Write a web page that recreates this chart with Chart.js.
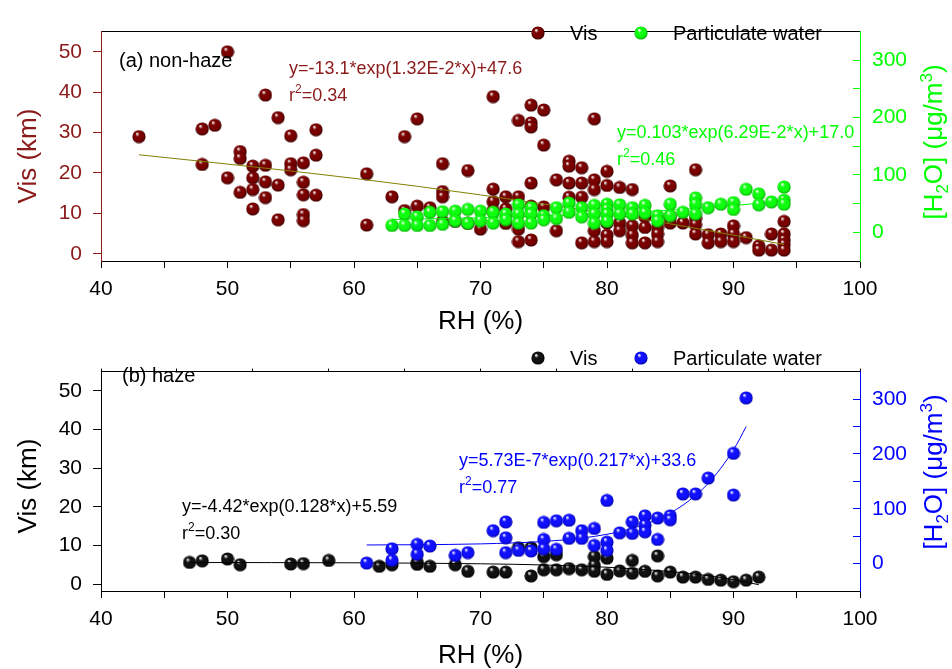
<!DOCTYPE html>
<html lang="en">
<head>
<meta charset="UTF-8">
<title>Vis and particulate water vs RH</title>
<script src="https://cdn.jsdelivr.net/npm/chart.js"></script>
<style>
  body { margin: 0; background: #fff; }
  .panel { position: absolute; left: 0; }
  #panelA { top: 0; }
  #panelB { top: 340px; }
</style>
</head>
<body>
<div class="panel" id="panelA"><canvas id="chartA" width="952" height="340"></canvas></div>
<div class="panel" id="panelB"><canvas id="chartB" width="952" height="329"></canvas></div>
<script>
// tick positions (labels only on the major ones)
const rhTicks = [40, 50, 60, 70, 80, 90, 100];
const rhTickMarks = [40, 45, 50, 55, 60, 65, 70, 75, 80, 85, 90, 95, 100];
const visTicks = [0, 10, 20, 30, 40, 50];
const visTickMarks = [0, 5, 10, 15, 20, 25, 30, 35, 40, 45, 50, 55];
const waterTicks = [0, 100, 200, 300];
const waterTickMarks = [0, 50, 100, 150, 200, 250, 300];
const topTickMarks = [0, 1, 2, 3, 4, 5, 6, 7, 8, 9, 10];

// (a) non-haze: [RH %, Vis km]
const visNonHaze = [[43,29.0],[48,30.9],[48,22.1],[49,31.8],[50,50.0],[50,18.8],[51,25.3],[51,23.6],[51,15.2],
  [52,21.7],[52,18.8],[52,15.9],[52,11.1],[53,39.3],[53,21.9],[53,17.8],[53,13.9],[54,33.7],[54,17.0],[54,8.4],
  [55,29.2],[55,22.3],[55,20.8],[56,22.5],[56,17.7],[56,14.6],[56,9.7],[56,8.2],[57,30.7],[57,24.4],[57,14.5],
  [61,19.8],[61,7.1],[63,14.1],[64,29.0],[64,10.7],[65,33.4],[65,11.8],[66,11.4],[67,22.3],[67,15.4],[67,14.1],
  [67,8.0],[68,8.0],[69,20.6],[69,7.5],[70,6.1],[71,38.9],[71,16.0],[71,12.9],[71,10.7],[72,14.1],[72,11.1],
  [72,7.5],[73,33.0],[73,14.1],[73,6.1],[73,3.0],[74,36.8],[74,32.4],[74,31.4],[74,17.5],[74,11.8],[74,3.4],
  [75,35.6],[75,26.9],[75,11.6],[76,18.3],[76,5.7],[77,22.9],[77,21.7],[77,17.5],[77,14.0],[78,21.3],[78,17.5],
  [78,14.0],[78,2.7],[79,33.4],[79,18.3],[79,15.9],[79,5.7],[79,3.0],[80,20.4],[80,16.9],[80,7.6],[80,4.6],
  [80,3.0],[81,16.4],[81,7.6],[81,5.7],[82,15.9],[82,6.9],[82,4.6],[82,2.7],[83,9.2],[83,6.5],[83,2.7],[84,6.5],
  [84,4.9],[84,3.0],[85,16.8],[85,9.2],[85,7.6],[86,7.6],[87,20.8],[87,8.8],[87,7.2],[87,4.9],[88,4.7],[88,2.7],
  [89,4.9],[89,3.0],[90,6.9],[90,4.9],[90,3.0],[91,4.0],[92,1.9],[92,0.9],[93,4.9],[93,0.9],[94,8.0],[94,4.9],
  [94,3.4],[94,2.3],[94,0.9]];
// (a) non-haze: [RH %, particulate water ug/m3]
const waterNonHaze = [[63,12],[64,32],[64,12],[65,27],[65,12],[66,35],[66,12],[67,36],[67,14],[68,37],[68,20],
  [69,40],[69,16],[70,37],[70,20],[71,35],[71,16],[72,32],[72,22],[73,48],[73,32],[73,16],[74,43],[74,32],[74,16],
  [75,29],[75,22],[76,43],[76,24],[77,51],[77,35],[78,43],[78,27],[79,47],[79,32],[79,16],[80,49],[80,40],[80,32],
  [80,19],[81,48],[81,32],[82,43],[82,32],[83,47],[83,34],[84,29],[84,20],[85,49],[85,29],[86,35],[87,60],[87,49],
  [87,32],[88,43],[89,49],[90,52],[90,40],[91,75],[92,67],[92,48],[93,53],[94,79],[94,56],[94,49]];
// fitted curves
const visFitNonHaze = [[43,24.5],[55,20.5],[65,16.7],[75,12.3],[85,7.4],[94,2.3]];
const waterFitNonHaze = [[63,22.4],[70,25.4],[75,28.5],[80,32.8],[85,38.6],[90,46.6],[94,55.1]];

// (b) haze
const visHaze = [[47,5.6],[48,6.0],[50,6.5],[51,5.0],[55,5.2],[56,5.3],[58,6.1],[62,4.6],[63,5.0],[65,5.1],[65,5.6],
  [66,4.6],[68,5.0],[69,3.3],[71,3.1],[72,3.1],[73,9.4],[74,9.4],[74,2.1],[75,7.1],[75,3.7],[76,7.6],[76,3.7],
  [77,4.0],[78,3.7],[79,7.1],[79,4.8],[79,3.3],[80,6.7],[80,2.5],[81,3.4],[82,6.1],[82,2.8],[83,3.3],[84,7.3],
  [84,2.1],[85,3.1],[86,1.8],[87,1.8],[88,1.2],[89,1.0],[90,0.6],[91,1.0],[92,1.8]];
const waterHaze = [[61,1],[63,27],[63,6],[65,35],[65,17],[66,32],[68,15],[69,20],[71,60],[72,76],[72,47],[72,20],
  [73,24],[74,23],[75,75],[75,44],[75,27],[76,78],[76,26],[77,79],[77,46],[78,60],[78,46],[79,64],[79,33],
  [80,115],[80,39],[80,24],[81,56],[82,76],[82,55],[83,87],[83,70],[83,58],[84,83],[84,44],[85,87],[85,80],
  [86,127],[87,127],[88,156],[90,201],[90,125],[91,302]];
const visFitHaze = [[47,5.57],[60,5.5],[70,5.25],[75,4.94],[80,4.35],[85,3.24],[88,2.14],[90,1.13],[92,-0.17]];
const waterFitHaze = [[61,33.9],[65,34.4],[70,35.9],[75,40.3],[78,46.5],[80,53.4],[82,64.2],[84,80.9],
  [86,106.5],[88,146.2],[90,207.4],[91,249.6]];

const FONT = 'Arial, "Liberation Sans", sans-serif';
Chart.defaults.font.family = FONT;

const darkRed = '#8B1A1A';
const green = '#00FF00';
const TICK_SIZE = 21;

// glossy ball used as point style
function makeBall(base, dark) {
    const size = 14, r = 7;
    const c = document.createElement('canvas');
    c.width = size; c.height = size;
    const g = c.getContext('2d');
    const grad = g.createRadialGradient(r - 2, r - 3, 0.3, r, r, r);
    grad.addColorStop(0, '#ffffff');
    grad.addColorStop(0.28, base);
    grad.addColorStop(0.7, base);
    grad.addColorStop(1, dark);
    g.fillStyle = grad;
    g.beginPath();
    g.arc(r, r, r - 0.4, 0, Math.PI * 2);
    g.fill();
    return c;
}

const ballRed = makeBall('#7a0000', '#300000');
const ballGreen = makeBall('#10ff10', '#00a000');
const ballBlack = makeBall('#111111', '#000000');
const ballBlue = makeBall('#1010ff', '#0000a0');

function toXY(arr) { return arr.map(p => ({ x: p[0], y: p[1] })); }

function drawRich(ctx, parts, x, y, color, vertical) {
    ctx.save();
    ctx.fillStyle = color;
    ctx.textBaseline = 'alphabetic';
    ctx.textAlign = 'left';
    let total = 0;
    parts.forEach(p => { ctx.font = p[1] + 'px ' + FONT; total += ctx.measureText(p[0]).width; });
    ctx.translate(x, y);
    let cx = 0;
    if (vertical) { ctx.rotate(-Math.PI / 2); cx = -total / 2; }
    parts.forEach(p => {
        ctx.font = p[1] + 'px ' + FONT;
        ctx.fillText(p[0], cx, p[2] || 0);
        cx += ctx.measureText(p[0]).width;
    });
    ctx.restore();
}

// legend, equations and y titles
const panelText = {
    id: 'panelText',
    afterDraw(chart, args, opts) {
        const ctx = chart.ctx;
        (opts.legend || []).forEach(item => {
            const ds = chart.data.datasets[item.dataset];
            const img = ds.pointStyle;
            ctx.drawImage(img, item.bx - img.width / 2, item.y - img.height / 2);
            drawRich(ctx, [[ds.label, 20]], item.tx, item.y + 7, '#000');
        });
        (opts.notes || []).forEach(n => drawRich(ctx, n.parts, n.x, n.y, n.color, n.vertical));
    }
};

function xAxis(height, pad, titlePad) {
    return {
        type: 'linear', position: 'bottom', min: 40, max: 100,
        afterBuildTicks: s => { s.ticks = rhTickMarks.map(v => ({ value: v })); },
        afterFit: s => { s.height = height; },
        ticks: { autoSkip: false, maxRotation: 0, padding: pad, color: '#000', font: { size: TICK_SIZE },
                 callback: v => rhTicks.includes(v) ? String(v) : '' },
        grid: { drawOnChartArea: false, tickLength: 7, color: '#000' },
        border: { color: '#000' },
        title: { display: true, text: 'RH (%)', color: '#000', font: { size: 26, lineHeight: 1 },
                 padding: { top: 0, bottom: titlePad } }
    };
}

function topAxis(height) {
    return {
        type: 'linear', position: 'top', min: 0, max: 10,
        afterBuildTicks: s => { s.ticks = topTickMarks.map(v => ({ value: v })); },
        afterFit: s => { s.height = height; },
        ticks: { display: false },
        grid: { drawOnChartArea: false, drawTicks: height > 0, tickLength: height, color: '#000' },
        border: { color: '#000' }
    };
}

function visAxis(color) {
    return {
        type: 'linear', position: 'left', min: -1.8, max: 55,
        afterBuildTicks: s => { s.ticks = visTickMarks.map(v => ({ value: v })); },
        afterFit: s => { s.width = 101; },
        ticks: { padding: 11, color: color, font: { size: TICK_SIZE },
                 callback: v => visTicks.includes(v) ? String(v) : '' },
        grid: { drawOnChartArea: false, tickLength: 8, color: color },
        border: { color: color }
    };
}

function waterAxis(color) {
    return {
        type: 'linear', position: 'right', min: -50, max: 350,
        afterBuildTicks: s => { s.ticks = waterTickMarks.map(v => ({ value: v })); },
        afterFit: s => { s.width = 92; },
        ticks: { padding: 19, color: color, font: { size: TICK_SIZE },
                 callback: v => waterTicks.includes(v) ? String(v) : '' },
        grid: { drawOnChartArea: false, tickLength: -7, color: color },
        border: { color: color }
    };
}

function r2(value, size) {
    return [['r', size], ['2', Math.round(size * 0.65), -size * 0.42], ['=' + value, size]];
}

function waterTitle() {
    return [['[H', 26], ['2', 17, 6], ['O] (\u03bcg/m', 26], ['3', 17, -10], [')', 26]];
}

function makePanel(id, p) {
    return new Chart(document.getElementById(id), {
        type: 'scatter',
        data: {
            datasets: [
                { label: 'Vis', data: toXY(p.vis), yAxisID: 'y', pointStyle: p.visBall, pointRadius: 7, order: 4 },
                { label: 'Vis fit', data: toXY(p.visFit), yAxisID: 'y', showLine: true, pointRadius: 0,
                  borderColor: p.visFitColor, borderWidth: 1, cubicInterpolationMode: 'monotone', order: 3 },
                { label: 'Particulate water fit', data: toXY(p.waterFit), yAxisID: 'y2', showLine: true, pointRadius: 0,
                  borderColor: p.waterColor, borderWidth: 1, cubicInterpolationMode: 'monotone', order: 2 },
                { label: 'Particulate water', data: toXY(p.water), yAxisID: 'y2', pointStyle: p.waterBall, pointRadius: 7, order: 1 }
            ]
        },
        options: {
            responsive: false,
            animation: false,
            events: [],
            layout: { padding: { top: p.padTop, left: 0, right: 0, bottom: 0 } },
            scales: {
                x: xAxis(p.xHeight, p.tickPad, p.titlePad),
                x2: topAxis(p.topTick),
                y: visAxis(p.visColor),
                y2: waterAxis(p.waterColor)
            },
            plugins: {
                legend: { display: false },
                tooltip: { enabled: false },
                panelText: { legend: p.legend, notes: p.notes }
            }
        },
        plugins: [panelText]
    });
}

makePanel('chartA', {
    vis: visNonHaze, visFit: visFitNonHaze, water: waterNonHaze, waterFit: waterFitNonHaze,
    visBall: ballRed, waterBall: ballGreen, visColor: darkRed, waterColor: green, visFitColor: '#808000',
    padTop: 13, topTick: 0, xHeight: 79, tickPad: 9, titlePad: 5,
    legend: [ { dataset: 0, bx: 538, tx: 570, y: 33 }, { dataset: 3, bx: 641, tx: 673, y: 33 } ],
    notes: [
        { parts: [['(a) non-haze', 20]], x: 119, y: 67, color: '#000' },
        { parts: [['y=-13.1*exp(1.32E-2*x)+47.6', 18]], x: 289, y: 74, color: darkRed },
        { parts: r2('0.34', 18), x: 289, y: 101, color: darkRed },
        { parts: [['y=0.103*exp(6.29E-2*x)+17.0', 18]], x: 617, y: 138, color: green },
        { parts: r2('0.46', 18), x: 617, y: 165, color: green },
        { parts: [['Vis (km)', 26]], x: 36, y: 156, color: darkRed, vertical: true },
        { parts: waterTitle(), x: 942, y: 142, color: green, vertical: true }
    ]
});

makePanel('chartB', {
    vis: visHaze, visFit: visFitHaze, water: waterHaze, waterFit: waterFitHaze,
    visBall: ballBlack, waterBall: ballBlue, visColor: '#000', waterColor: '#0000FF', visFitColor: '#000',
    padTop: 0, topTick: 3, xHeight: 78, tickPad: 9, titlePad: 0,
    legend: [ { dataset: 0, bx: 538, tx: 570, y: 18 }, { dataset: 3, bx: 641, tx: 673, y: 18 } ],
    notes: [
        { parts: [['(b) haze', 20]], x: 122, y: 42, color: '#000' },
        { parts: [['y=-4.42*exp(0.128*x)+5.59', 18]], x: 182, y: 172, color: '#000' },
        { parts: r2('0.30', 18), x: 182, y: 199, color: '#000' },
        { parts: [['y=5.73E-7*exp(0.217*x)+33.6', 18]], x: 459, y: 126, color: '#0000FF' },
        { parts: r2('0.77', 18), x: 459, y: 153, color: '#0000FF' },
        { parts: [['Vis (km)', 26]], x: 36, y: 146, color: '#000', vertical: true },
        { parts: waterTitle(), x: 942, y: 132, color: '#0000FF', vertical: true }
    ]
});
</script>
</body>
</html>
